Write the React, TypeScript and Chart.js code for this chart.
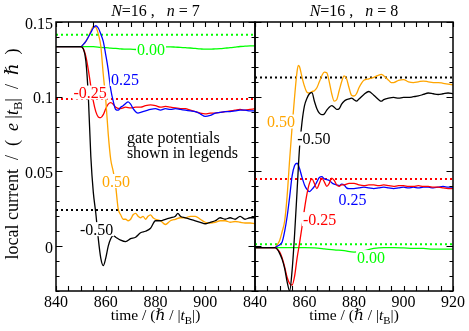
import React, { useEffect, useRef } from 'react';
import { Chart, registerables } from 'chart.js';

Chart.register(...registerables);

const W = 469;
const H = 331;
const SERIF = '"Liberation Serif", "Times New Roman", "DejaVu Serif", serif';

// ---------- axis ranges and tick labels ----------
const X_MIN = 840;
const X_MAX = 920;
const Y_MIN = -0.03;
const Y_MAX = 0.15;
const xTickValues = [840, 860, 880, 900, 920];
const xTickLabelsLeft = ['840', '860', '880', '900', ''];
const xTickLabelsRight = ['840', '860', '880', '900', '920'];
const yTickValues = [0, 0.05, 0.1, 0.15];
const yTickLabels = ['0', '0.05', '0.1', '0.15'];

// ---------- N=16, n=7 (left panel) ----------
const t7Black = [840, 850, 851, 852, 853, 854, 855, 856, 857, 858, 859, 860, 861, 862, 863, 864, 866, 868, 870, 872, 874, 876, 878, 880, 882, 884, 886, 888, 889, 890, 892, 894, 896, 898, 900, 902, 904, 906, 908, 910, 912, 914, 916, 918, 920];
const v7Black = [0.1335, 0.1335, 0.132, 0.124, 0.1, 0.06, 0.036, 0.022, 0.005, -0.008, -0.013, -0.008, 0.0, 0.005, 0.007, 0.006, 0.004, 0.003, 0.005, 0.006, 0.009, 0.01, 0.012, 0.017, 0.017, 0.018, 0.019, 0.02, 0.022, 0.02, 0.019, 0.018, 0.017, 0.016, 0.015, 0.016, 0.017, 0.019, 0.018, 0.019, 0.018, 0.02, 0.018, 0.019, 0.019];
const t7Orange = [840, 850, 851, 852, 853, 854, 855, 856, 857, 858, 859, 860, 861, 862, 863, 864, 865, 866, 867, 868, 869, 870, 871, 872, 873, 874, 875, 876, 877, 878, 879, 880, 882, 884, 886, 888, 890, 892, 894, 896, 898, 900, 902, 904, 906, 908, 910, 912, 914, 916, 918, 920];
const v7Orange = [0.1335, 0.1335, 0.135, 0.137, 0.14, 0.144, 0.147, 0.1465, 0.142, 0.134, 0.115, 0.098, 0.075, 0.058, 0.05, 0.04, 0.025, 0.021, 0.018, 0.018, 0.017, 0.018, 0.021, 0.022, 0.02, 0.019, 0.02, 0.018, 0.02, 0.021, 0.019, 0.018, 0.017, 0.0145, 0.017, 0.018, 0.019, 0.019, 0.02, 0.02, 0.018, 0.016, 0.0155, 0.016, 0.017, 0.017, 0.016, 0.0165, 0.016, 0.0155, 0.0155, 0.015];
const t7Blue = [840, 850, 851, 852, 853, 854, 855, 856, 857, 858, 859, 860, 861, 862, 863, 864, 865, 866, 867, 868, 869, 870, 871, 872, 873, 874, 876, 878, 880, 882, 884, 886, 888, 890, 892, 894, 896, 898, 900, 902, 904, 906, 908, 910, 912, 914, 916, 918, 920];
const v7Blue = [0.1335, 0.1335, 0.135, 0.137, 0.14, 0.143, 0.146, 0.1475, 0.146, 0.142, 0.137, 0.128, 0.118, 0.105, 0.097, 0.0915, 0.091, 0.093, 0.094, 0.0955, 0.0965, 0.095, 0.092, 0.09, 0.089, 0.0895, 0.0905, 0.0915, 0.092, 0.091, 0.092, 0.0915, 0.092, 0.0915, 0.091, 0.0905, 0.09, 0.0885, 0.0868, 0.0875, 0.089, 0.0895, 0.09, 0.09, 0.0905, 0.091, 0.091, 0.0905, 0.0905];
const t7Red = [840, 850, 851, 852, 853, 854, 855, 856, 857, 858, 859, 860, 861, 862, 863, 864, 866, 868, 870, 872, 874, 876, 878, 880, 882, 884, 886, 888, 890, 892, 894, 896, 898, 900, 902, 904, 906, 908, 910, 912, 914, 916, 918, 920];
const v7Red = [0.1335, 0.1335, 0.132, 0.127, 0.118, 0.107, 0.097, 0.09, 0.0865, 0.086, 0.088, 0.092, 0.095, 0.096, 0.095, 0.093, 0.092, 0.093, 0.0925, 0.093, 0.093, 0.094, 0.0945, 0.094, 0.093, 0.0935, 0.093, 0.0925, 0.092, 0.092, 0.091, 0.09, 0.089, 0.0885, 0.089, 0.089, 0.0895, 0.09, 0.0905, 0.091, 0.0915, 0.091, 0.0915, 0.092];
const t7Green = [840, 850, 855, 858, 860, 862, 864, 866, 868, 870, 872, 874, 876, 878, 880, 882, 884, 886, 888, 890, 892, 894, 896, 898, 900, 902, 904, 906, 908, 910, 912, 914, 916, 918, 920];
const v7Green = [0.1335, 0.1335, 0.1335, 0.133, 0.1328, 0.1325, 0.1323, 0.132, 0.1318, 0.1318, 0.1316, 0.1318, 0.1322, 0.1326, 0.133, 0.1332, 0.1334, 0.1334, 0.1332, 0.133, 0.1328, 0.1326, 0.1323, 0.132, 0.1318, 0.1318, 0.132, 0.1322, 0.1325, 0.1328, 0.1332, 0.1336, 0.1338, 0.134, 0.134];
// dotted reference levels (n=7)
const ref7Green = 0.1415;
const ref7Red = 0.0985;
const ref7Black = 0.0242;

// ---------- N=16, n=8 (right panel) ----------
const t8Black = [840, 848, 849, 850, 851, 852, 853, 854, 855, 856, 857, 858, 859, 860, 861, 862, 863, 864, 865, 866, 867, 868, 869, 870, 871, 872, 873, 874, 875, 876, 877, 878, 879, 880, 881, 882, 884, 886, 888, 890, 891, 892, 894, 896, 898, 900, 902, 904, 906, 908, 910, 912, 914, 916, 918, 920];
const v8Black = [-0.001, -0.001, -0.002, -0.005, -0.009, -0.015, -0.024, -0.03, -0.016, 0.008, 0.037, 0.066, 0.083, 0.094, 0.099, 0.102, 0.1027, 0.097, 0.092, 0.089, 0.088, 0.0885, 0.091, 0.093, 0.094, 0.093, 0.0915, 0.092, 0.095, 0.097, 0.098, 0.0985, 0.099, 0.098, 0.097, 0.0985, 0.1015, 0.1035, 0.101, 0.098, 0.097, 0.098, 0.099, 0.0995, 0.099, 0.0995, 0.0995, 0.1, 0.1005, 0.1015, 0.1025, 0.102, 0.1015, 0.102, 0.1025, 0.102];
const t8Orange = [840, 848, 849, 850, 851, 852, 853, 854, 855, 856, 857, 857.5, 858, 859, 860, 861, 862, 863, 864, 865, 866, 867, 868, 869, 870, 871, 872, 873, 874, 875, 876, 877, 878, 879, 880, 881, 882, 883, 884, 886, 888, 890, 891, 892, 894, 895, 896, 898, 900, 902, 904, 906, 908, 910, 912, 914, 916, 918, 920];
const v8Orange = [-0.001, -0.001, 0.001, 0.004, 0.01, 0.017, 0.034, 0.058, 0.08, 0.1, 0.117, 0.121, 0.12, 0.113, 0.107, 0.103, 0.1025, 0.1035, 0.104, 0.106, 0.11, 0.114, 0.1165, 0.116, 0.11, 0.102, 0.097, 0.098, 0.104, 0.11, 0.114, 0.112, 0.106, 0.101, 0.1005, 0.102, 0.106, 0.109, 0.111, 0.112, 0.113, 0.1145, 0.115, 0.114, 0.111, 0.1095, 0.1095, 0.111, 0.1115, 0.11, 0.1095, 0.11, 0.1105, 0.11, 0.1095, 0.1095, 0.109, 0.1085, 0.108];
const t8Blue = [840, 848, 849, 850, 851, 852, 853, 854, 855, 856, 857, 858, 859, 860, 861, 862, 863, 864, 865, 866, 867, 868, 869, 870, 871, 872, 873, 874, 875, 876, 877, 878, 880, 882, 884, 886, 888, 890, 892, 894, 896, 898, 900, 902, 904, 906, 908, 910, 912, 914, 916, 918, 920];
const v8Blue = [-0.001, -0.001, 0.0, 0.001, 0.003, 0.01, 0.02, 0.033, 0.047, 0.054, 0.0555, 0.052, 0.046, 0.041, 0.038, 0.0365, 0.038, 0.04, 0.043, 0.046, 0.0465, 0.045, 0.0445, 0.044, 0.0425, 0.0415, 0.041, 0.0405, 0.0415, 0.041, 0.039, 0.0385, 0.0385, 0.039, 0.0395, 0.039, 0.0385, 0.039, 0.0395, 0.039, 0.0385, 0.039, 0.0395, 0.039, 0.0395, 0.039, 0.0395, 0.0395, 0.039, 0.0395, 0.04, 0.0395, 0.0395];
const t8Red = [840, 848, 849, 850, 851, 852, 853, 854, 855, 856, 857, 858, 859, 860, 861, 862, 863, 864, 865, 866, 867, 868, 869, 870, 871, 872, 873, 874, 875, 876, 878, 880, 882, 884, 886, 888, 890, 892, 894, 896, 898, 900, 902, 904, 906, 908, 910, 912, 914, 916, 918, 920];
const v8Red = [-0.001, -0.001, -0.002, -0.004, -0.008, -0.014, -0.021, -0.025, -0.026, -0.02, -0.008, 0.002, 0.013, 0.025, 0.035, 0.042, 0.045, 0.042, 0.0385, 0.042, 0.0455, 0.043, 0.04, 0.042, 0.0455, 0.044, 0.041, 0.04, 0.041, 0.041, 0.042, 0.042, 0.041, 0.0405, 0.041, 0.041, 0.0405, 0.041, 0.0405, 0.04, 0.0405, 0.0405, 0.04, 0.04, 0.0405, 0.04, 0.04, 0.0395, 0.0395, 0.039, 0.0385, 0.0385];
const t8Green = [840, 850, 860, 864, 868, 872, 876, 880, 884, 888, 892, 896, 900, 904, 908, 912, 916, 920];
const v8Green = [-0.001, -0.001, -0.001, -0.0012, -0.0018, -0.0025, -0.003, -0.004, -0.003, -0.0015, -0.001, -0.001, -0.0012, -0.0015, -0.0015, -0.002, -0.002, -0.002];
const ref8Black = 0.1128;
const ref8Red = 0.0449;
const ref8Green = 0.0012;

const C_BLACK = '#000000';
const C_RED = '#ff0000';
const C_BLUE = '#0000ff';
const C_ORANGE = '#ffa500';
const C_GREEN = '#00ff00';

type Part = { text: string; italic?: boolean; sub?: boolean };
type Label = { text: string; x: number; y: number; color: string };

const pts = (t: number[], v: number[]) => t.map((x, i) => ({ x, y: v[i] }));
const curve = (t: number[], v: number[], color: string) => ({
  data: pts(t, v),
  borderColor: color,
  borderWidth: 1.3,
  pointRadius: 0,
  fill: false,
  cubicInterpolationMode: 'monotone' as const,
});
const dotted = (v: number, color: string) => ({
  data: [{ x: X_MIN, y: v }, { x: X_MAX, y: v }],
  borderColor: color,
  borderWidth: 2,
  borderDash: [2, 3],
  pointRadius: 0,
  fill: false,
});

function fontOf(size: number, italic?: boolean) {
  return `${italic ? 'italic ' : ''}${size}px ${SERIF}`;
}

function drawRich(ctx: CanvasRenderingContext2D, parts: Part[], cx: number, y: number, size: number) {
  const widths = parts.map((p) => {
    ctx.font = fontOf(p.sub ? size * 0.7 : size, p.italic);
    return ctx.measureText(p.text).width;
  });
  const total = widths.reduce((a, b) => a + b, 0);
  let x = cx - total / 2;
  ctx.textAlign = 'left';
  ctx.textBaseline = 'alphabetic';
  ctx.fillStyle = '#000';
  parts.forEach((p, i) => {
    ctx.font = fontOf(p.sub ? size * 0.7 : size, p.italic);
    ctx.fillText(p.text, x, p.sub ? y + size * 0.25 : y);
    x += widths[i];
  });
}

const xTitleParts: Part[] = [
  { text: 'time / (' },
  { text: 'ℏ', italic: true },
  { text: ' / |' },
  { text: 't', italic: true },
  { text: 'B', sub: true },
  { text: '|)' },
];
const yTitleParts: Part[] = [
  { text: 'local current  /  (  ' },
  { text: 'e', italic: true },
  { text: ' |' },
  { text: 't', italic: true },
  { text: 'B', sub: true },
  { text: '|  /  ' },
  { text: 'ℏ', italic: true },
  { text: '  )' },
];

function panelPlugin(opts: {
  title: Part[];
  labels: Label[];
  xLabels: string[];
  showY: boolean;
  note?: { lines: string[]; x: number; y: number[] };
}) {
  return {
    id: 'panelDecor',
    afterDatasetsDraw(chart: any) {
      const ctx: CanvasRenderingContext2D = chart.ctx;
      const { left, right, top, bottom } = chart.chartArea;
      const xs = chart.scales.x;
      const ys = chart.scales.y;
      ctx.save();
      // in-plot labels with white boxes
      ctx.font = fontOf(16);
      opts.labels.forEach((lb) => {
        const px = xs.getPixelForValue(lb.x);
        const py = ys.getPixelForValue(lb.y);
        const m = ctx.measureText(lb.text);
        const asc = 11;
        ctx.fillStyle = '#fff';
        ctx.fillRect(px - m.width / 2 - 1, py - asc / 2 - 1.5, m.width + 2, asc + 3);
        ctx.fillStyle = lb.color;
        ctx.textAlign = 'center';
        ctx.textBaseline = 'alphabetic';
        ctx.fillText(lb.text, px, py + asc / 2);
      });
      if (opts.note) {
        ctx.fillStyle = '#000';
        ctx.textAlign = 'left';
        ctx.textBaseline = 'alphabetic';
        ctx.font = fontOf(16);
        opts.note.lines.forEach((ln, i) => {
          ctx.fillText(ln, xs.getPixelForValue(opts.note!.x), ys.getPixelForValue(opts.note!.y[i]) + 5);
        });
      }
      // frame
      ctx.strokeStyle = '#000';
      ctx.lineWidth = 1.5;
      ctx.strokeRect(left, top, right - left, bottom - top);
      // ticks
      ctx.lineWidth = 1.1;
      ctx.beginPath();
      for (let v = X_MIN; v <= X_MAX; v += 5) {
        const px = Math.round(xs.getPixelForValue(v)) + 0.5;
        const len = 5;
        ctx.moveTo(px, bottom);
        ctx.lineTo(px, bottom - len);
        ctx.moveTo(px, top);
        ctx.lineTo(px, top + len);
      }
      for (let k = -3; k <= 15; k++) {
        const v = k / 100;
        const py = Math.round(ys.getPixelForValue(v)) + 0.5;
        const len = k % 5 === 0 ? 6.5 : 3.5;
        ctx.moveTo(left, py);
        ctx.lineTo(left + len, py);
        ctx.moveTo(right, py);
        ctx.lineTo(right - len, py);
      }
      ctx.stroke();
      // tick labels
      ctx.fillStyle = '#000';
      ctx.font = fontOf(16);
      ctx.textBaseline = 'alphabetic';
      ctx.textAlign = 'center';
      xTickValues.forEach((v, i) => {
        const s = opts.xLabels[i];
        if (s) ctx.fillText(s, xs.getPixelForValue(v), bottom + 16);
      });
      if (opts.showY) {
        ctx.textAlign = 'right';
        yTickValues.forEach((v, i) => {
          ctx.fillText(yTickLabels[i], left - 3, ys.getPixelForValue(v) + 6.5);
        });
      }
      // titles
      const cx = (left + right) / 2;
      drawRich(ctx, opts.title, cx, 16, 16);
      drawRich(ctx, xTitleParts, cx, 320, 15.5);
      if (opts.showY) {
        ctx.save();
        ctx.translate(17.5, 154);
        ctx.rotate(-Math.PI / 2);
        drawRich(ctx, yTitleParts, 0, 0, 18);
        ctx.restore();
      }
      ctx.restore();
    },
  };
}

function makeChart(canvas: HTMLCanvasElement, datasets: any[], padLeft: number, padRight: number, plugin: any) {
  return new Chart(canvas, {
    type: 'line',
    data: { datasets },
    options: {
      responsive: false,
      animation: false,
      devicePixelRatio: 1,
      layout: { padding: { left: padLeft, right: padRight, top: 22, bottom: 40 } },
      plugins: { legend: { display: false }, tooltip: { enabled: false }, title: { display: false } },
      scales: {
        x: { type: 'linear', min: X_MIN, max: X_MAX, display: false },
        y: { type: 'linear', min: Y_MIN, max: Y_MAX, display: false },
      },
    },
    plugins: [plugin],
  } as any);
}

export default function App() {
  const leftRef = useRef<HTMLCanvasElement>(null);
  const rightRef = useRef<HTMLCanvasElement>(null);

  useEffect(() => {
    const leftSets = [
      curve(t7Black, v7Black, C_BLACK),
      curve(t7Blue, v7Blue, C_BLUE),
      curve(t7Orange, v7Orange, C_ORANGE),
      curve(t7Red, v7Red, C_RED),
      curve(t7Green, v7Green, C_GREEN),
      dotted(ref7Green, C_GREEN),
      dotted(ref7Red, C_RED),
      dotted(ref7Black, C_BLACK),
    ];
    const rightSets = [
      curve(t8Black, v8Black, C_BLACK),
      curve(t8Red, v8Red, C_RED),
      curve(t8Blue, v8Blue, C_BLUE),
      curve(t8Orange, v8Orange, C_ORANGE),
      curve(t8Green, v8Green, C_GREEN),
      dotted(ref8Black, C_BLACK),
      dotted(ref8Red, C_RED),
      dotted(ref8Green, C_GREEN),
    ];
    const left = makeChart(leftRef.current!, leftSets, 56, W - 255, panelPlugin({
      title: [{ text: 'N', italic: true }, { text: '=16 ,   ' }, { text: 'n', italic: true }, { text: ' = 7' }],
      labels: [
        { text: '0.00', x: 878.2, y: 0.1316, color: C_GREEN },
        { text: '0.25', x: 867.7, y: 0.1118, color: C_BLUE },
        { text: '-0.25', x: 853.7, y: 0.1028, color: C_RED },
        { text: '0.50', x: 864.1, y: 0.0436, color: C_ORANGE },
        { text: '-0.50', x: 856.3, y: 0.0114, color: C_BLACK },
      ],
      xLabels: xTickLabelsLeft,
      showY: true,
      note: { lines: ['gate potentials', 'shown in legends'], x: 868.5, y: [0.0724, 0.0623] },
    }));
    const right = makeChart(rightRef.current!, rightSets, 255, W - 453, panelPlugin({
      title: [{ text: 'N', italic: true }, { text: '=16 ,   ' }, { text: 'n', italic: true }, { text: ' = 8' }],
      labels: [
        { text: '0.50', x: 850.5, y: 0.0834, color: C_ORANGE },
        { text: '-0.50', x: 863.8, y: 0.072, color: C_BLACK },
        { text: '0.25', x: 879.4, y: 0.0309, color: C_BLUE },
        { text: '-0.25', x: 866.1, y: 0.0181, color: C_RED },
        { text: '0.00', x: 886.9, y: -0.0073, color: C_GREEN },
      ],
      xLabels: xTickLabelsRight,
      showY: false,
    }));
    return () => {
      left.destroy();
      right.destroy();
    };
  }, []);

  const cstyle: React.CSSProperties = { position: 'absolute', left: 0, top: 0, width: W, height: H };
  return (
    <div style={{ position: 'absolute', left: 0, top: 0, width: W, height: H, background: '#fff' }}>
      <canvas ref={leftRef} width={W} height={H} style={cstyle} />
      <canvas ref={rightRef} width={W} height={H} style={cstyle} />
    </div>
  );
}
